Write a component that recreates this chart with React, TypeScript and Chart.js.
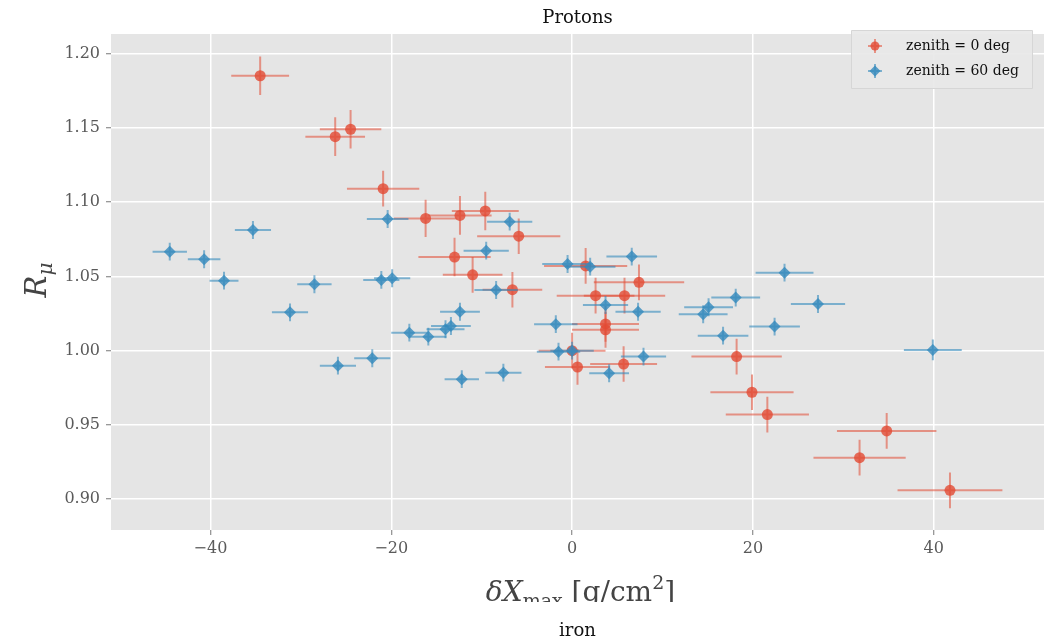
import React, { useEffect, useRef } from "react";
import { Chart, registerables } from "chart.js";

Chart.register(...registerables);

// ---- data (zenith = 0 deg) ----
const redX = [-34.5, -26.2, -24.5, -20.9, -16.2, -12.4, -9.6, -5.9, -13.0, -11.0, -6.6, 1.5, 7.4, 2.6, 5.8, 3.7, 3.7, 0.6, 5.7, 0.0, 18.2, 19.9, 21.6, 34.8, 31.8, 41.8];
const redY = [1.185, 1.144, 1.149, 1.109, 1.089, 1.091, 1.094, 1.077, 1.063, 1.051, 1.041, 1.057, 1.046, 1.037, 1.037, 1.018, 1.014, 0.989, 0.991, 1.0, 0.996, 0.972, 0.957, 0.946, 0.928, 0.906];
const redXErr = [3.2, 3.3, 3.4, 4.0, 3.5, 3.5, 3.7, 4.6, 4.0, 3.3, 3.3, 4.6, 5.0, 4.3, 4.5, 3.7, 3.7, 3.6, 3.7, 3.7, 5.0, 4.6, 4.6, 5.5, 5.1, 5.8];
const redYErr = [0.013, 0.013, 0.013, 0.012, 0.0125, 0.013, 0.013, 0.012, 0.013, 0.012, 0.012, 0.012, 0.012, 0.012, 0.012, 0.012, 0.012, 0.012, 0.012, 0.012, 0.012, 0.012, 0.012, 0.012, 0.012, 0.012];

// ---- data (zenith = 60 deg) ----
const blueX = [-44.5, -40.7, -35.3, -38.5, -28.5, -31.2, -25.9, -20.4, -21.1, -19.9, -9.5, -6.9, -8.4, -12.4, -18.0, -15.9, -14.0, -13.4, -22.1, -12.2, -7.6, -1.8, -1.5, 0.0, 3.7, 7.3, 7.9, 4.1, -0.5, 2.0, 6.6, 23.5, 18.1, 27.2, 15.1, 14.5, 22.4, 16.7, 39.9];
const blueY = [1.0666, 1.0615, 1.0812, 1.0471, 1.0447, 1.0258, 0.9899, 1.0886, 1.0476, 1.0487, 1.0673, 1.0868, 1.0408, 1.0262, 1.0121, 1.0094, 1.0144, 1.0166, 0.9949, 0.9808, 0.9852, 1.0178, 0.9993, 1.0, 1.0307, 1.0262, 0.996, 0.9848, 1.0583, 1.0565, 1.0633, 1.0525, 1.0357, 1.0314, 1.0292, 1.0245, 1.0162, 1.0101, 1.0005];
const blueXErr = [1.9, 1.8, 2.0, 1.6, 1.9, 2.0, 2.0, 2.3, 2.0, 2.0, 2.5, 2.5, 2.4, 2.2, 2.0, 2.0, 2.1, 2.2, 2.0, 1.9, 2.0, 2.4, 2.4, 2.4, 2.5, 2.5, 2.5, 2.2, 2.8, 2.8, 2.8, 3.2, 2.7, 3.0, 2.7, 2.7, 2.8, 2.8, 3.2];
const blueYErr = [0.006, 0.006, 0.006, 0.006, 0.006, 0.006, 0.006, 0.006, 0.006, 0.006, 0.006, 0.006, 0.006, 0.006, 0.006, 0.006, 0.006, 0.006, 0.006, 0.006, 0.006, 0.006, 0.006, 0.006, 0.006, 0.006, 0.006, 0.006, 0.006, 0.006, 0.006, 0.006, 0.006, 0.006, 0.006, 0.006, 0.006, 0.006, 0.007];

const xTicks = [-40, -20, 0, 20, 40];
const yTicks = [0.9, 0.95, 1.0, 1.05, 1.1, 1.15, 1.2];
const seriesLabels = ["zenith = 0 deg", "zenith = 60 deg"];
const titleText = "Protons";
const nextPanelTitle = "iron";

const RED = "rgba(226,74,51,0.8)";
const RED_BAR = "rgba(226,74,51,0.55)";
const BLUE = "rgba(52,138,189,0.8)";
const BLUE_BAR = "rgba(52,138,189,0.6)";
const SERIF = "'DejaVu Serif', serif";

const bgPlugin = {
  id: "bgPlugin",
  beforeDraw(chart: any) {
    const { ctx, chartArea: a, width, height } = chart;
    ctx.save();
    ctx.fillStyle = "#ffffff";
    ctx.fillRect(0, 0, width, height);
    ctx.fillStyle = "#E5E5E5";
    ctx.fillRect(a.left, a.top, a.right - a.left, a.bottom - a.top);
    ctx.restore();
  },
};

const errorBarPlugin = {
  id: "errorBars",
  beforeDatasetDraw(chart: any, args: any) {
    const ds = chart.data.datasets[args.index];
    const { ctx, chartArea: a } = chart;
    const xs = chart.scales.x;
    const ys = chart.scales.y;
    ctx.save();
    ctx.beginPath();
    ctx.rect(a.left, a.top, a.right - a.left, a.bottom - a.top);
    ctx.clip();
    ctx.strokeStyle = ds.barColor;
    ctx.lineWidth = 2;
    ds.data.forEach((p: any, i: number) => {
      const xe = ds.xErr[i];
      const ye = ds.yErr[i];
      const px = xs.getPixelForValue(p.x);
      const py = ys.getPixelForValue(p.y);
      ctx.beginPath();
      ctx.moveTo(xs.getPixelForValue(p.x - xe), py);
      ctx.lineTo(xs.getPixelForValue(p.x + xe), py);
      ctx.moveTo(px, ys.getPixelForValue(p.y - ye));
      ctx.lineTo(px, ys.getPixelForValue(p.y + ye));
      ctx.stroke();
    });
    ctx.restore();
  },
};

function drawParts(ctx: CanvasRenderingContext2D, parts: any[], cx: number, baseY: number) {
  let total = 0;
  parts.forEach((p) => {
    ctx.font = p.font;
    p.w = ctx.measureText(p.t).width;
    total += p.w;
  });
  let x = cx - total / 2;
  parts.forEach((p) => {
    ctx.font = p.font;
    ctx.fillText(p.t, x, baseY + p.dy);
    x += p.w;
  });
}

const textPlugin = {
  id: "texts",
  afterDraw(chart: any) {
    const { ctx, chartArea: a } = chart;
    ctx.save();
    ctx.textAlign = "left";
    ctx.textBaseline = "alphabetic";

    // title
    ctx.fillStyle = "#111";
    ctx.font = `18px ${SERIF}`;
    ctx.textAlign = "center";
    ctx.fillText(titleText, (a.left + a.right) / 2, 23);
    ctx.fillText(nextPanelTitle, (a.left + a.right) / 2, 636);
    ctx.textAlign = "left";

    // x axis label (clipped at bottom like the reference)
    ctx.save();
    ctx.beginPath();
    ctx.rect(0, 540, chart.width, 62);
    ctx.clip();
    ctx.fillStyle = "#444";
    drawParts(
      ctx,
      [
        { t: "\u03B4X", font: `italic 28px ${SERIF}`, dy: 0 },
        { t: "max", font: `19px ${SERIF}`, dy: 6 },
        { t: " [g/cm", font: `28px ${SERIF}`, dy: 0 },
        { t: "2", font: `19px ${SERIF}`, dy: -12 },
        { t: "]", font: `28px ${SERIF}`, dy: 0 },
      ],
      (a.left + a.right) / 2 + 3,
      601
    );
    ctx.restore();

    // y axis label
    ctx.save();
    ctx.translate(46, 280);
    ctx.rotate(-Math.PI / 2);
    ctx.fillStyle = "#444";
    drawParts(
      ctx,
      [
        { t: "R", font: `italic 29px ${SERIF}`, dy: 0 },
        { t: "\u03BC", font: `italic 20px ${SERIF}`, dy: 6 },
      ],
      0,
      0
    );
    ctx.restore();

    // legend
    const lx = 851, ly = 30, lw = 181, lh = 58;
    ctx.fillStyle = "rgba(232,232,232,0.9)";
    ctx.strokeStyle = "#D6D6D6";
    ctx.lineWidth = 1;
    ctx.beginPath();
    ctx.rect(lx + 0.5, ly + 0.5, lw, lh);
    ctx.fill();
    ctx.stroke();
    const entries = [
      { label: seriesLabels[0], color: RED, bar: RED_BAR, shape: "circle" },
      { label: seriesLabels[1], color: BLUE, bar: BLUE_BAR, shape: "diamond" },
    ];
    entries.forEach((e, i) => {
      const mx = 875;
      const my = 46 + i * 25;
      ctx.strokeStyle = e.bar;
      ctx.lineWidth = 2;
      ctx.beginPath();
      ctx.moveTo(mx - 7, my);
      ctx.lineTo(mx + 7, my);
      ctx.moveTo(mx, my - 7);
      ctx.lineTo(mx, my + 7);
      ctx.stroke();
      ctx.fillStyle = e.color;
      ctx.beginPath();
      if (e.shape === "circle") {
        ctx.arc(mx, my, 4.5, 0, Math.PI * 2);
      } else {
        ctx.moveTo(mx, my - 5.5);
        ctx.lineTo(mx + 5.5, my);
        ctx.lineTo(mx, my + 5.5);
        ctx.lineTo(mx - 5.5, my);
        ctx.closePath();
      }
      ctx.fill();
      ctx.fillStyle = "#111";
      ctx.font = `14px ${SERIF}`;
      ctx.textBaseline = "middle";
      ctx.fillText(e.label, 906, my);
      ctx.textBaseline = "alphabetic";
    });
    ctx.restore();
  },
};

export default function App() {
  const ref = useRef<HTMLCanvasElement | null>(null);
  useEffect(() => {
    document.body.style.margin = "0";
    const canvas = ref.current;
    if (!canvas) return;
    const chart = new Chart(canvas, {
      type: "scatter",
      data: {
        datasets: [
          {
            label: seriesLabels[0],
            data: redX.map((x, i) => ({ x, y: redY[i] })),
            xErr: redXErr,
            yErr: redYErr,
            barColor: RED_BAR,
            backgroundColor: RED,
            borderColor: "rgba(0,0,0,0)",
            borderWidth: 0,
            pointStyle: "circle",
            pointRadius: 5.5,
            pointHoverRadius: 5.5,
            order: 2,
          } as any,
          {
            label: seriesLabels[1],
            data: blueX.map((x, i) => ({ x, y: blueY[i] })),
            xErr: blueXErr,
            yErr: blueYErr,
            barColor: BLUE_BAR,
            backgroundColor: BLUE,
            borderColor: "rgba(0,0,0,0)",
            borderWidth: 0,
            pointStyle: "rectRot",
            pointRadius: 6,
            pointHoverRadius: 6,
            order: 1,
          } as any,
        ],
      },
      options: {
        responsive: false,
        animation: false,
        devicePixelRatio: 1,
        events: [],
        layout: { padding: { left: 0, right: 7, top: 34, bottom: 0 } },
        plugins: {
          legend: { display: false },
          tooltip: { enabled: false },
          title: { display: false },
        },
        scales: {
          x: {
            type: "linear",
            min: -51,
            max: 52.2,
            afterFit: (s: any) => {
              s.height = 113;
            },
            afterBuildTicks: (s: any) => {
              s.ticks = xTicks.map((value) => ({ value }));
            },
            border: { display: false },
            grid: { color: "#ffffff", lineWidth: 1.5, tickColor: "#777", tickLength: 5, tickWidth: 1 },
            ticks: {
              color: "#5a5a5a",
              font: { family: SERIF, size: 16 },
              padding: 4,
              maxRotation: 0,
              callback: (v: any) => (v < 0 ? "\u2212" + Math.abs(v) : String(v)),
            },
          },
          y: {
            type: "linear",
            min: 0.8793,
            max: 1.2131,
            afterFit: (s: any) => {
              s.width = 111;
            },
            afterBuildTicks: (s: any) => {
              s.ticks = yTicks.map((value) => ({ value }));
            },
            border: { display: false },
            grid: { color: "#ffffff", lineWidth: 1.5, tickColor: "#777", tickLength: 5, tickWidth: 1 },
            ticks: {
              color: "#5a5a5a",
              font: { family: SERIF, size: 16 },
              padding: 6,
              callback: (v: any) => Number(v).toFixed(2),
            },
          },
        },
      } as any,
      plugins: [bgPlugin, errorBarPlugin, textPlugin],
    });
    return () => chart.destroy();
  }, []);
  return <canvas ref={ref} width={1051} height={643} style={{ display: "block" }} />;
}
